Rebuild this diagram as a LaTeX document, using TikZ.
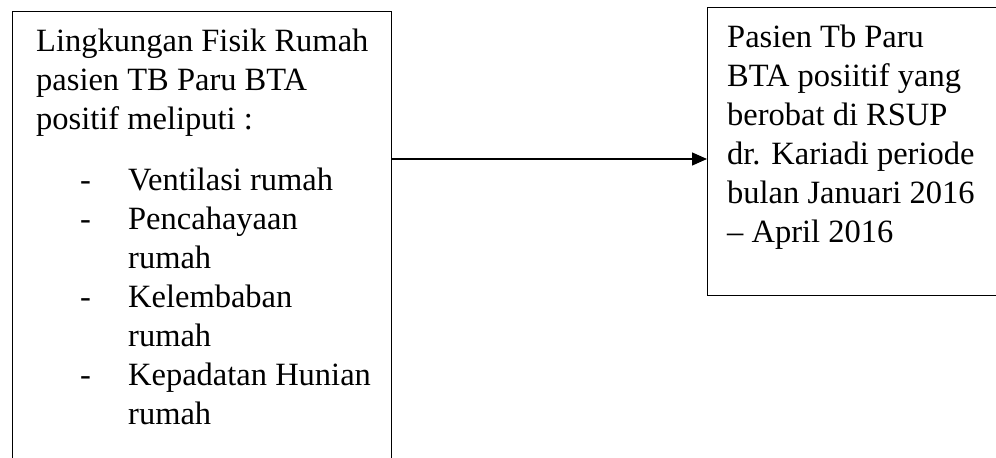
\documentclass[tikz,border=0pt]{standalone}
\usepackage{fontspec}
\setmainfont{Liberation Serif}
\usetikzlibrary{arrows.meta,positioning}

\begin{document}
\begin{tikzpicture}[x=1bp, y=-1bp,
  box/.style = {draw, line width=1.3bp, shape = rectangle, inner sep=0pt},
  txt/.style = {inner sep=0pt, font = \fontsize{32.5bp}{39bp}\selectfont},
  arr/.style = {line width=1.3bp, -{Triangle[length=15bp, width=13bp]}}]
\useasboundingbox (0,0) rectangle (996,458);
\node[box, anchor = north west, minimum width = 379bp, minimum height = 470bp] (lbox) at (12,11) {};
\node[box, anchor = north west, minimum width = 300bp, minimum height = 288bp] (rbox) at (707,7) {};
\node[txt, below right = 12.7bp and 24bp of lbox.north west] (lhead)
  {\begin{tabular}{@{}l@{}}
  Lingkungan Fisik Rumah\\
  pasien TB Paru BTA\\
  positif meliputi :
  \end{tabular}};
\node[txt, below right = 22bp and 44bp of lhead.south west] (llist)
  {\begin{tabular}{@{}p{48bp}@{}l@{}}
  - & Ventilasi rumah\\
  - & Pencahayaan\\
    & rumah\\
  - & Kelembaban\\
    & rumah\\
  - & Kepadatan Hunian\\
    & rumah
  \end{tabular}};
\node[txt, below right = 12.7bp and 20bp of rbox.north west] (rtext)
  {\begin{tabular}{@{}l@{}}
  Pasien Tb Paru\\
  BTA posiitif yang\\
  berobat di RSUP\\
  dr. Kariadi periode\\
  bulan Januari 2016\\
  – April 2016
  \end{tabular}};
\coordinate (mid) at (0,159);
\draw[arr] (lbox.east |- mid) -- (rbox.west |- mid);
\end{tikzpicture}
\end{document}
